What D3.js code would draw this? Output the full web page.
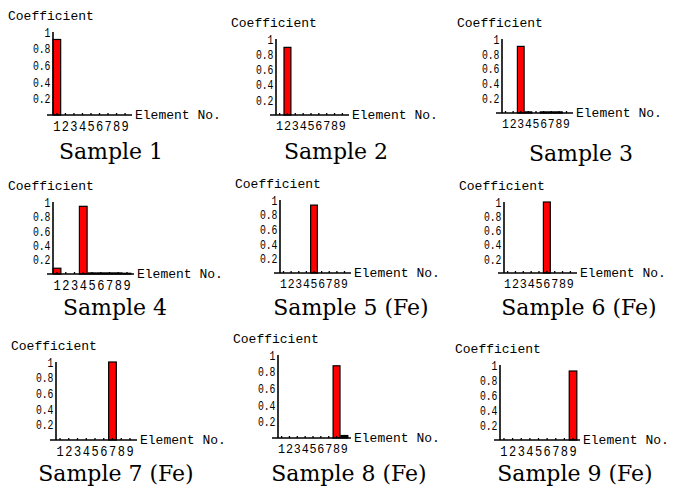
<!DOCTYPE html>
<html>
<head>
<meta charset="utf-8">
<script src="https://cdn.jsdelivr.net/npm/d3@7"></script>
<style>
  body { margin: 0; background: #fff; }
  .mono { font-family: "Liberation Mono", "DejaVu Sans Mono", monospace; }
  .cap { font-family: "DejaVu Serif", serif; }
</style>
</head>
<body>
<div id="chart"></div>
<script>
// element numbers on the x axis
const elements = [1, 2, 3, 4, 5, 6, 7, 8, 9];
const yTicks = [0.2, 0.4, 0.6, 0.8, 1];

const sampleNames = ['Sample 1', 'Sample 2', 'Sample 3', 'Sample 4', 'Sample 5 (Fe)',
  'Sample 6 (Fe)', 'Sample 7 (Fe)', 'Sample 8 (Fe)', 'Sample 9 (Fe)'];

// coefficient per element
const sample1 = [0.91, 0, 0, 0, 0, 0, 0, 0, 0];
const sample2 = [0, 0.89, 0, 0, 0, 0, 0, 0, 0];
const sample3 = [0, 0, 0.9, 0.015, 0, 0.015, 0.015, 0.015, 0];
const sample4 = [0.08, 0, 0, 0.94, 0.015, 0.015, 0.015, 0.015, 0.01];
const sample5 = [0, 0, 0, 0, 0.93, 0, 0, 0, 0];
const sample6 = [0, 0, 0, 0, 0, 1, 0, 0, 0];
const sample7 = [0, 0, 0, 0, 0, 0, 1, 0, 0];
const sample8 = [0, 0, 0, 0, 0, 0, 0, 0.87, 0.03];
const sample9 = [0, 0, 0, 0, 0, 0, 0, 0, 0.92];
const samples = [sample1, sample2, sample3, sample4, sample5, sample6, sample7, sample8, sample9];

// where each little chart sits: axis corner, plot size, caption centre/baseline
const layout = [
  { ax: 53, ay: 115, w: 76, h: 83, lx: 111, ly: 159 },
  { ax: 276, ay: 115, w: 70, h: 76, lx: 336, ly: 159 },
  { ax: 502, ay: 113, w: 68, h: 74, lx: 581, ly: 161 },
  { ax: 53, ay: 274, w: 78, h: 72, lx: 115, ly: 315 },
  { ax: 280, ay: 273, w: 68, h: 73, lx: 351, ly: 315 },
  { ax: 504, ay: 273, w: 70, h: 71, lx: 579, ly: 315 },
  { ax: 56, ay: 440, w: 78, h: 78, lx: 116, ly: 481 },
  { ax: 278, ay: 438, w: 70, h: 83, lx: 349, ly: 481 },
  { ax: 500, ay: 440, w: 77, h: 75, lx: 575, ly: 481 }
];

const svg = d3.select('#chart')
  .append('svg')
  .attr('width', 680)
  .attr('height', 488);

samples.forEach((values, i) => {
  const p = layout[i];
  const g = svg.append('g')
    .attr('transform', 'translate(' + p.ax + ',' + p.ay + ')');

  const x = d3.scaleBand()
    .domain(elements)
    .range([0, p.w])
    .paddingInner(0.12)
    .paddingOuter(0.02);

  const y = d3.scaleLinear()
    .domain([0, 1])
    .range([0, -p.h]);

  // bars
  g.selectAll('rect')
    .data(values.map((v, k) => ({ el: elements[k], v: v })).filter(d => d.v > 0))
    .enter()
    .append('rect')
    .attr('x', d => x(d.el))
    .attr('y', d => y(d.v))
    .attr('width', x.bandwidth())
    .attr('height', d => -y(d.v))
    .attr('fill', d => d.v > 0.05 ? '#ff0000' : '#000')
    .attr('stroke', '#000')
    .attr('stroke-width', 1.2);

  // x axis: small upward ticks, digits underneath (kept narrower than a slot)
  const step = x.step();
  const xAxis = g.append('g')
    .attr('class', 'mono')
    .call(d3.axisBottom(x).tickSize(-2).tickSizeOuter(0).tickPadding(5));
  xAxis.select('.domain').remove();
  xAxis.selectAll('line').attr('stroke', '#000').attr('stroke-width', 1.3);
  xAxis.selectAll('text')
    .attr('font-size', Math.min(12, (step - 0.8) / 0.6))
    .attr('fill', '#000')
    .attr('transform', 'scale(1,1.15)');

  g.append('line')
    .attr('x1', -6).attr('x2', p.w + 3)
    .attr('y1', 0).attr('y2', 0)
    .attr('stroke', '#000').attr('stroke-width', 1.6);

  // y axis
  const yAxis = g.append('g')
    .attr('class', 'mono')
    .call(d3.axisLeft(y).tickValues(yTicks).tickSize(0).tickPadding(3)
      .tickFormat(d => d === 1 ? '1' : d3.format('.1f')(d)));
  yAxis.select('.domain').remove();
  yAxis.selectAll('text')
    .attr('font-size', 11.5)
    .attr('fill', '#000')
    .attr('transform', 'scale(0.85,1.15)');

  g.append('line')
    .attr('x1', 0).attr('x2', 0)
    .attr('y1', y(1)).attr('y2', 0)
    .attr('stroke', '#000').attr('stroke-width', 1.6);

  g.append('text')
    .attr('class', 'mono')
    .attr('x', -45)
    .attr('y', y(1) - 12)
    .attr('font-size', 13)
    .text('Coefficient');

  g.append('text')
    .attr('class', 'mono')
    .attr('x', p.w + 6)
    .attr('y', 4)
    .attr('font-size', 13)
    .text('Element No.');

  svg.append('text')
    .attr('class', 'cap')
    .attr('x', p.lx)
    .attr('y', p.ly)
    .attr('text-anchor', 'middle')
    .attr('font-size', 22)
    .text(sampleNames[i]);
});
</script>
</body>
</html>
